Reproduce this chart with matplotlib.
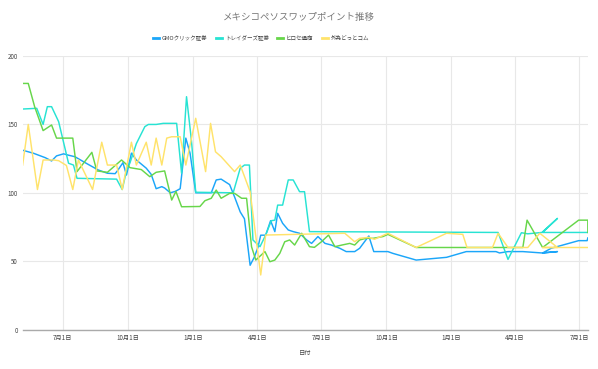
import matplotlib
matplotlib.use('Agg')
import pandas as pd
from matplotlib import pyplot as plt

plt.rcParams['font.family'] = ['Noto Sans CJK JP', 'DejaVu Sans']

#Series data (dates, swap points)
gmo_dates = ['2019-05-06', '2019-05-20', '2019-06-06', '2019-06-15', '2019-06-22', '2019-07-02',
             '2019-07-09', '2019-07-18', '2019-08-03', '2019-08-20', '2019-09-02', '2019-09-13',
             '2019-09-17', '2019-09-24', '2019-09-29', '2019-10-06', '2019-10-13', '2019-10-27',
             '2019-11-03', '2019-11-10', '2019-11-18', '2019-11-22', '2019-11-30', '2019-12-07',
             '2019-12-14', '2019-12-22', '2019-12-28', '2020-01-05', '2020-01-27', '2020-02-03',
             '2020-02-10', '2020-02-22', '2020-02-29', '2020-03-08', '2020-03-14', '2020-03-22',
             '2020-03-28', '2020-04-02', '2020-04-06', '2020-04-13', '2020-04-20', '2020-04-26',
             '2020-04-30', '2020-05-07', '2020-05-15', '2020-05-22', '2020-05-31', '2020-06-10',
             '2020-06-17', '2020-06-26', '2020-07-06', '2020-07-15', '2020-07-27', '2020-08-05',
             '2020-08-17', '2020-08-24', '2020-09-06', '2020-09-13', '2020-10-03', '2020-10-10',
             '2020-11-12', '2020-12-25', '2021-01-22', '2021-03-05', '2021-03-10', '2021-03-22',
             '2021-04-12', '2021-05-09', '2021-05-31', '2021-05-10', '2021-05-22', '2021-06-30',
             '2021-07-12', '2021-07-13']
gmo_values = [131, 129, 125.7, 123.3, 127, 128.5,
              127.5, 126.4, 121.6, 116.7, 114.3, 114,
              116.7, 122, 113, 129, 124, 118,
              113.5, 103, 104.5, 103.5, 100, 101,
              103, 140, 129, 100, 100, 109.4,
              110, 106, 97, 86, 81, 47,
              53, 60, 69, 69, 79.6, 71.6,
              85, 77.7, 72.8, 71.6, 70.4, 65.5,
              63, 68, 63, 61.8, 59.4, 57,
              57, 59.4, 68.4, 57, 57, 55.7,
              50.8, 52.8, 57, 57, 56, 57,
              57, 56, 57, 56, 59.4, 65,
              65, 67]

traders_dates = ['2019-05-06', '2019-05-25', '2019-06-03', '2019-06-09', '2019-06-15', '2019-06-25',
                 '2019-07-09', '2019-07-16', '2019-07-21', '2019-09-15', '2019-09-23', '2019-09-29',
                 '2019-10-04', '2019-10-13', '2019-10-25', '2019-10-30', '2019-11-10', '2019-11-20',
                 '2019-12-09', '2019-12-16', '2019-12-23', '2019-12-30', '2020-01-05', '2020-02-27',
                 '2020-03-08', '2020-03-14', '2020-03-21', '2020-03-26', '2020-04-05', '2020-04-13',
                 '2020-04-21', '2020-04-26', '2020-04-30', '2020-05-07', '2020-05-15', '2020-05-22',
                 '2020-05-31', '2020-06-07', '2020-06-14', '2021-03-08', '2021-03-22', '2021-04-10',
                 '2021-04-19', '2021-05-09', '2021-05-31', '2021-05-10', '2021-06-30', '2021-07-13']
traders_values = [161.3, 161.8, 150, 163, 163, 152,
                  121.6, 120.3, 110.6, 110, 102.4, 116,
                  122, 136, 148.4, 150, 150, 150.8,
                  150.8, 114.3, 170.3, 138, 100.4, 100,
                  118, 120.3, 120.3, 65.5, 60.6, 69.1,
                  79.6, 80, 91, 91, 109.4, 109.4,
                  100.8, 100.8, 71.6, 71, 51.3, 70.8,
                  70, 71, 81.3, 71, 71, 71]

hirose_dates = ['2019-05-05', '2019-05-13', '2019-05-22', '2019-06-03', '2019-06-15', '2019-06-22',
                '2019-07-15', '2019-07-21', '2019-08-11', '2019-08-18', '2019-09-02', '2019-09-22',
                '2019-10-04', '2019-10-20', '2019-11-01', '2019-11-10', '2019-11-22', '2019-12-02',
                '2019-12-08', '2019-12-16', '2020-01-11', '2020-01-18', '2020-01-27', '2020-02-03',
                '2020-02-10', '2020-02-22', '2020-02-29', '2020-03-10', '2020-03-17', '2020-03-24',
                '2020-03-30', '2020-04-12', '2020-04-19', '2020-04-26', '2020-05-03', '2020-05-10',
                '2020-05-17', '2020-05-24', '2020-06-03', '2020-06-14', '2020-06-21', '2020-07-01',
                '2020-07-11', '2020-07-20', '2020-07-30', '2020-08-10', '2020-08-17', '2020-08-24',
                '2020-09-02', '2020-09-12', '2020-09-26', '2020-10-03', '2020-11-12', '2021-04-12',
                '2021-04-18', '2021-05-10', '2021-06-30', '2021-07-13', '2021-07-13']
hirose_values = [180, 180, 163, 145.5, 149.6, 140,
                 140, 115.5, 129.6, 116, 115, 124,
                 118.4, 117, 111.8, 115, 116, 94.7,
                 101, 89.8, 90, 94.2, 96, 102,
                 96, 99.6, 99.6, 96, 96, 60.6,
                 50.8, 57, 49.6, 50.8, 55.7, 64.2,
                 65.5, 61.8, 70.4, 60.6, 60.1, 64.2,
                 69.1, 60.6, 61.8, 63, 61.8, 65.5,
                 66.7, 66.7, 68, 69.6, 60, 60,
                 80, 60, 80, 80, 71]

gaitame_dates = ['2019-05-05', '2019-05-13', '2019-05-26', '2019-06-03', '2019-06-18', '2019-06-25',
                 '2019-07-06', '2019-07-15', '2019-07-23', '2019-08-12', '2019-08-25', '2019-09-02',
                 '2019-09-15', '2019-09-23', '2019-10-06', '2019-10-13', '2019-10-27', '2019-11-03',
                 '2019-11-10', '2019-11-18', '2019-11-25', '2019-12-02', '2019-12-14', '2019-12-22',
                 '2020-01-05', '2020-01-19', '2020-01-26', '2020-02-02', '2020-02-10', '2020-02-29',
                 '2020-03-08', '2020-03-22', '2020-04-06', '2020-04-13', '2020-08-03', '2020-08-17',
                 '2020-08-24', '2020-09-06', '2020-09-14', '2020-10-03', '2020-11-12', '2020-12-25',
                 '2021-01-17', '2021-01-23', '2021-02-28', '2021-03-08', '2021-03-22', '2021-04-19',
                 '2021-05-06', '2021-05-31', '2021-05-10', '2021-06-30', '2021-07-13']
gaitame_values = [120.3, 150, 102.4, 124, 124, 123.5,
                  120, 102.4, 124, 102.4, 137, 120.3,
                  120.3, 102.4, 137, 120.3, 137, 120.3,
                  140, 120.3, 140, 141, 141, 120.3,
                  154.5, 115.5, 150.8, 130, 126.4, 115.5,
                  120.3, 100.8, 39.9, 69.1, 70.4, 64.2,
                  66.7, 67.4, 66, 70.4, 60, 70.4,
                  69.6, 60, 60, 70.4, 60, 60,
                  70.4, 60, 60, 60, 60]

series_names = ['GMOクリック証券', 'トレイダーズ証券', 'ヒロセ通商', '外為どっとコム']
series_colors = ['#1ba6f9', '#27e3d3', '#67d64a', '#ffe36b']

tick_dates = ['2019-07-01', '2019-10-01', '2020-01-01', '2020-04-01', '2020-07-01',
              '2020-10-01', '2021-01-01', '2021-04-01', '2021-07-01']
tick_labels = ['7月1日', '10月1日', '1月1日', '4月1日', '7月1日',
               '10月1日', '1月1日', '4月1日', '7月1日']

fig = plt.figure(figsize=(5.98, 3.69), dpi=100)
ax = fig.add_axes([0.039, 0.107, 0.944, 0.741])

all_data = [(gmo_dates, gmo_values), (traders_dates, traders_values),
            (hirose_dates, hirose_values), (gaitame_dates, gaitame_values)]

handles = []
for (d, v), name, col in zip(all_data, series_names, series_colors):
    line, = ax.plot(pd.to_datetime(d), v, color=col, lw=1.05, label=name, solid_joinstyle='round')
    handles.append(line)

ax.set_xlim(pd.Timestamp('2019-05-06'), pd.Timestamp('2021-07-13'))
ax.set_ylim(0, 200)
ax.set_yticks([0, 50, 100, 150, 200])
ax.set_xticks(pd.to_datetime(tick_dates))
ax.set_xticklabels(tick_labels)
ax.tick_params(axis='both', length=0, labelsize=4.5, colors='#444444')
ax.tick_params(axis='x', pad=3)
ax.tick_params(axis='y', pad=4)
ax.grid(True, color='#e8e8e8', lw=0.8)
ax.set_axisbelow(True)
for s in ['top', 'right', 'left']:
    ax.spines[s].set_visible(False)
ax.spines['bottom'].set_color('#aaaaaa')
ax.spines['bottom'].set_linewidth(1.0)

ax.set_xlabel('日付', fontsize=4.5, color='#444444', labelpad=5)

fig.suptitle('メキシコペソスワップポイント推移', x=0.5, y=0.965, fontsize=6.8, color='#777777')

leg = fig.legend(handles=handles, labels=series_names, loc='center', bbox_to_anchor=(0.437, 0.897),
                 ncol=4, frameon=False, fontsize=4.0, handlelength=1.0, handletextpad=0.6,
                 columnspacing=1.5)
for h in leg.get_lines():
    h.set_linewidth(2.0)
for t in leg.get_texts():
    t.set_color('#444444')

fig.savefig('out.png', dpi=100)
